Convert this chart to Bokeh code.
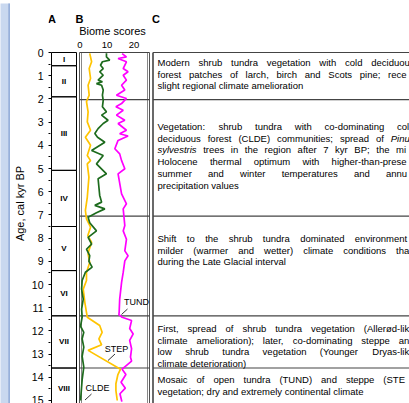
from bokeh.plotting import figure
from bokeh.layouts import row, column
from bokeh.models import Range1d, FixedTicker, ColumnDataSource
from bokeh.core.properties import value
from bokeh.embed import file_html
from bokeh.resources import INLINE

# ---------------- data ----------------
step_age = [0.04, 0.40, 0.69, 1.12, 1.41, 1.84, 2.12, 2.56, 2.99, 3.35, 3.65, 4.00, 4.44, 4.66, 4.80,
            5.37, 6.24, 6.81, 7.17, 7.53, 7.89, 8.19, 8.53, 8.69, 9.05, 9.48, 9.83, 10.20, 10.78, 11.20,
            11.41, 11.77, 12.06, 12.34, 12.60, 12.84, 13.65, 13.90, 14.28, 14.57, 15.00]
step_score = [3.6, 4.3, 3.4, 3.9, 3.0, 3.4, 2.4, 3.0, 2.7, 3.9, 2.0, 3.9, 2.7, 3.9, 2.7,
              3.3, 2.7, 2.0, 2.4, 3.9, 2.9, 4.3, 3.3, 3.0, 3.6, 2.4, 2.4, 1.2, 1.8, 2.4,
              2.7, 7.3, 8.2, 7.0, 8.0, 3.0, 15.0, 14.0, 13.3, 13.3, 13.8]

clde_age = [0.03, 0.19, 0.33, 0.40, 0.55, 0.69, 0.83, 0.98, 1.19, 1.26, 1.34, 1.41, 1.62, 1.84, 2.06,
            2.34, 2.56, 2.70, 2.92, 3.06, 3.28, 3.49, 3.65, 3.87, 4.22, 4.44, 4.80, 5.23, 5.44, 6.16,
            6.45, 6.59, 6.74, 6.91, 7.10, 7.34, 7.69, 7.97, 8.26, 8.48, 8.76, 9.00, 9.25, 9.47, 9.83,
            10.20, 10.63, 11.06, 11.40, 11.80, 12.06, 12.34, 12.70, 13.10, 13.56, 14.10, 15.00]
clde_score = [9.8, 9.8, 11.0, 8.3, 7.6, 8.6, 7.3, 8.6, 6.7, 8.3, 6.1, 8.0, 8.6, 8.3, 8.6,
              8.3, 9.8, 8.0, 10.4, 8.6, 6.7, 5.5, 6.5, 9.2, 4.3, 8.6, 6.1, 9.8, 6.7, 7.3,
              8.0, 5.5, 9.2, 6.1, 3.0, 3.6, 6.1, 3.0, 4.3, 2.4, 3.6, 3.3, 4.5, 2.0, 0.8,
              0.6, 1.2, 0.6, 0.8, 0.2, 1.4, 0.8, 1.4, 0.8, 1.4, 0.8, 0.2]

tund_age = [0.05, 0.19, 0.26, 0.40, 0.69, 0.83, 0.98, 1.19, 1.41, 1.62, 1.84, 1.98, 2.20, 2.34, 2.49,
            2.70, 2.92, 3.06, 3.35, 3.50, 3.60, 3.79, 4.15, 4.37, 4.66, 5.01, 5.23, 6.09, 6.52, 6.74,
            7.46, 7.69, 8.05, 8.55, 8.76, 8.98, 9.48, 9.91, 10.63, 11.20, 11.30, 11.41, 11.55, 11.90, 12.13,
            12.41, 12.77, 13.13, 13.30, 13.65, 13.88, 14.21, 14.47, 14.71, 15.05]
tund_score = [15.6, 17.2, 14.1, 17.2, 16.0, 17.8, 16.0, 17.2, 15.4, 16.6, 13.5, 17.2, 15.4, 13.3, 16.0,
              13.5, 16.6, 14.1, 17.2, 14.7, 17.8, 14.1, 12.9, 14.7, 15.4, 16.6, 14.1, 15.4, 17.2, 16.0,
              16.6, 16.0, 17.2, 16.6, 17.8, 16.6, 16.0, 15.4, 14.7, 14.5, 14.4, 15.6, 19.1, 18.4, 19.7,
              18.4, 19.1, 18.7, 19.1, 15.6, 17.0, 15.2, 16.8, 14.8, 15.5]

zone_names = ["I", "II", "III", "IV", "V", "VI", "VII", "VIII"]
zone_bounds = [0.0, 0.57, 1.91, 5.08, 7.5, 9.4, 11.35, 13.6, 15.35]
group_bounds = [0.0, 2.03, 7.05, 11.35, 13.6]

age_ticks = list(range(0, 16))
score_ticks = [0, 10, 20]

paragraphs = [
    ["Modern shrub tundra vegetation with cold deciduous",
     "forest patches of larch, birch and Scots pine; recent",
     "slight regional climate amelioration"],
    ["Vegetation: shrub tundra with co-dominating cold",
     "deciduous forest (CLDE) communities; spread of *Pinus*",
     "*sylvestris* trees in the region after 7 kyr BP; the mid-",
     "Holocene thermal optimum with higher-than-present",
     "summer and winter temperatures and annual",
     "precipitation values"],
    ["Shift to the shrub tundra dominated environments;",
     "milder (warmer and wetter) climate conditions than",
     "during the Late Glacial interval"],
    ["First, spread of shrub tundra vegetation (Allerød-like",
     "climate amelioration); later, co-dominating steppe and",
     "low shrub tundra vegetation (Younger Dryas-like",
     "climate deterioration)"],
    ["Mosaic of open tundra (TUND) and steppe (STEP)",
     "vegetation; dry and extremely continental climate"],
]

# ---------------- layout (reference pixel geometry) ----------------
FONT = "Liberation Sans"
WIN_W, WIN_H = 409, 403
STRIP_W = 10
TOP_H = 3
X0PX, PXU = 79.5, 2.7      # score 0 position, px per score unit
Y0PX, PXK = 52.0, 23.2     # age 0 position, px per kyr
FRAME_L = 48


def fx(px):
    return (px - X0PX) / PXU


def fy(py):
    return (py - Y0PX) / PXK


def deco(w, h, color):
    f = figure(width=w, height=h, x_range=Range1d(0, w), y_range=Range1d(0, h),
               output_backend="svg", toolbar_location=None, min_border=0)
    f.axis.visible = False
    f.grid.visible = False
    f.outline_line_color = None
    f.background_fill_color = color
    f.border_fill_color = color
    return f


# decorative frame strips (top and left)
top = deco(WIN_W, TOP_H, "#d3dff2")
strip = deco(STRIP_W, WIN_H - TOP_H, "#c9d8ef")
strip.quad(left=[7.8], right=[STRIP_W], top=[WIN_H], bottom=[0], fill_color="#97b0da", line_color=None)

p = figure(width=WIN_W - STRIP_W, height=WIN_H - TOP_H,
           x_range=Range1d(fx(FRAME_L), fx(WIN_W)),
           y_range=Range1d(fy(WIN_H), fy(TOP_H)),
           x_axis_location=None,
           output_backend="svg", toolbar_location=None,
           min_border_left=FRAME_L - STRIP_W, min_border_top=0,
           min_border_right=0, min_border_bottom=0)
p.outline_line_color = None
p.grid.visible = False
p.background_fill_color = "white"
p.border_fill_color = "white"

# left axis: age
ya = p.yaxis[0]
ya.ticker = FixedTicker(ticks=age_ticks, minor_ticks=[t + 0.5 for t in age_ticks])
ya.axis_line_color = None
ya.major_tick_out = 0
ya.major_tick_in = 3
ya.minor_tick_out = 0
ya.minor_tick_in = 2
ya.major_tick_line_color = "black"
ya.minor_tick_line_color = "black"
ya.major_label_standoff = 5
ya.major_label_text_font = FONT
ya.major_label_text_font_size = "10.5px"
ya.major_label_text_color = "black"
ya.axis_label = "Age, cal kyr BP"
ya.axis_label_text_font = FONT
ya.axis_label_text_font_style = "normal"
ya.axis_label_text_font_size = "11px"
ya.axis_label_text_color = "black"
ya.axis_label_standoff = 3

# biome score tick labels (top)
p.text(x=score_ticks, y=fy(44.5), text=[str(t) for t in score_ticks], text_align="center",
       text_baseline="middle", text_font=value(FONT), text_font_size="9.5px", text_color="black")

# ---- column A: zone boxes
p.quad(left=fx(51), right=fx(76), top=zone_bounds[:-1], bottom=zone_bounds[1:],
       fill_color=None, line_color="black", line_width=1)
zmid = [(a + b) / 2 for a, b in zip(zone_bounds[:-1], zone_bounds[1:])]
p.text(x=fx(63.5), y=zmid, text=zone_names, text_align="center", text_baseline="middle",
       text_font=value(FONT), text_font_style="bold", text_font_size="8px", text_color="black")

# ---- column B: box
yb = zone_bounds[-1] + 1
for xpx, col in [(79, "#555555"), (81, "#888888"), (147, "#888888"), (149, "#555555")]:
    p.segment(x0=fx(xpx), y0=0, x1=fx(xpx), y1=yb, line_color=col, line_width=1)
p.segment(x0=fx(79), y0=group_bounds, x1=fx(149), y1=group_bounds, line_color="#444444", line_width=1.2)

# ---- column C: box
p.segment(x0=fx(152.5), y0=0, x1=fx(152.5), y1=yb, line_color="#444444", line_width=1.6)
p.segment(x0=fx(152.5), y0=group_bounds, x1=fx(430), y1=group_bounds, line_color="#444444", line_width=1.2)

# ---- curves
p.line(step_score, step_age, line_color="#ffc400", line_width=1.7)
p.line(clde_score, clde_age, line_color="#1d6b1d", line_width=1.7)
p.line(tund_score, tund_age, line_color="#ff00ff", line_width=1.7)

# curve labels with leaders
lab_txt = ["TUND", "STEP", "CLDE"]
lab_px = [(136, 301.5), (116, 348.5), (97, 387)]
lead_px = [((127, 308.5), (121, 314)), ((114.5, 353.5), (107.5, 360)), ((91, 393.5), (84.5, 399.5))]
p.text(x=[fx(a) for a, b in lab_px], y=[fy(b) for a, b in lab_px], text=lab_txt,
       text_align="center", text_baseline="middle", text_font=value(FONT),
       text_font_size="9px", text_color="black")
p.segment(x0=[fx(a[0]) for a, b in lead_px], y0=[fy(a[1]) for a, b in lead_px],
          x1=[fx(b[0]) for a, b in lead_px], y1=[fy(b[1]) for a, b in lead_px],
          line_color="black", line_width=0.8)

# ---- headings
head_txt = ["A", "B", "C"]
head_px = [(51.5, 18), (79, 18), (155.5, 18)]
p.text(x=[fx(a) for a, b in head_px], y=[fy(b) for a, b in head_px], text=head_txt,
       text_align="center", text_baseline="middle", text_font=value(FONT), text_font_style="bold",
       text_font_size="11px", text_color="black")
p.text(x=[fx(112)], y=[fy(30.5)], text=["Biome scores"], text_align="center", text_baseline="middle",
       text_font=value(FONT), text_font_size="11px", text_color="black")

# ---- column C justified text (cut at the window edge as in the reference)
AW = {' ': 278, '!': 278, '(': 333, ')': 333, ',': 278, '-': 333, '.': 278, ':': 278, ';': 278,
      'A': 667, 'B': 667, 'C': 722, 'D': 722, 'E': 667, 'F': 611, 'G': 778, 'H': 722, 'I': 278,
      'J': 500, 'K': 667, 'L': 556, 'M': 833, 'N': 722, 'O': 778, 'P': 667, 'Q': 778, 'R': 722,
      'S': 667, 'T': 611, 'U': 722, 'V': 667, 'W': 944, 'X': 667, 'Y': 667, 'Z': 611,
      'a': 556, 'b': 556, 'c': 500, 'd': 556, 'e': 556, 'f': 278, 'g': 556, 'h': 556, 'i': 222,
      'j': 222, 'k': 500, 'l': 222, 'm': 833, 'n': 556, 'o': 556, 'p': 556, 'q': 556, 'r': 333,
      's': 500, 't': 278, 'u': 556, 'v': 500, 'w': 722, 'x': 500, 'y': 500, 'z': 500, 'ø': 611}
FS = 9.5
TX0, TX1 = 157.0, 414.0
EDGE = WIN_W + 0.5
para_y = [62, 126, 238, 328, 379]
LS = 11.7


def cw(ch):
    return AW.get(ch, 556) * FS / 1000.0


def tw(s):
    return sum(cw(ch) for ch in s)


wx, wy, wt, ws = [], [], [], []
for para, y0 in zip(paragraphs, para_y):
    for i, line in enumerate(para):
        words = line.split(" ")
        clean = [w.strip("*") for w in words]
        widths = [tw(w) for w in clean]
        last = (i == len(para) - 1)
        gap = tw(" ") if last or len(words) < 2 else (TX1 - TX0 - sum(widths)) / (len(words) - 1)
        x = TX0
        for w, c, wd in zip(words, clean, widths):
            shown, edge = "", x
            for ch in c:
                if edge + cw(ch) > EDGE:
                    break
                shown += ch
                edge += cw(ch)
            if shown:
                wx.append(fx(x))
                wy.append(fy(y0 + i * LS))
                wt.append(shown)
                ws.append("italic" if w.startswith("*") else "normal")
            x += wd + gap

src = ColumnDataSource(dict(x=wx, y=wy, text=wt, style=ws))
p.text(x="x", y="y", text="text", source=src, text_font=value(FONT), text_font_style="style",
       text_font_size=f"{FS}px", text_baseline="middle", text_align="left", text_color="black")

layout = column(top, row(strip, p, spacing=0), spacing=0)
open("out.html", "w").write(file_html(layout, INLINE))
